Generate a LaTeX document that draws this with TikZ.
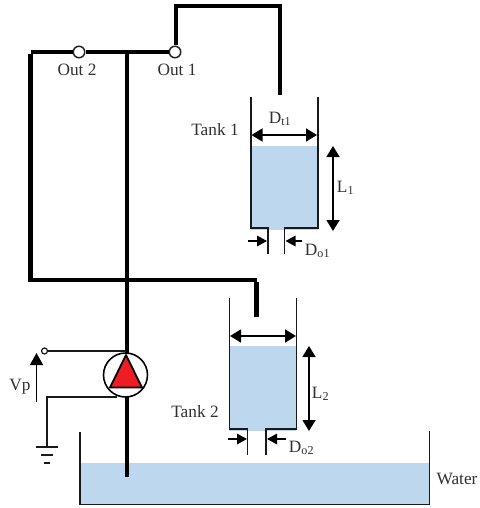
\documentclass[tikz,border=0pt]{standalone}
\usepackage{fontspec}
\setmainfont{Liberation Serif}
\usetikzlibrary{arrows.meta}
\definecolor{waterblue}{HTML}{BDD7EE}
\definecolor{pumpred}{HTML}{EE1C25}
\definecolor{labelgray}{HTML}{303030}
\tikzset{
  x=1pt,y=-1pt,
  pipe/.style={line width=4.4pt,line cap=butt,line join=miter,black},
  wall/.style={line width=1.9pt,line join=miter,black!90},
  wire/.style={line width=1.4pt,line join=miter,black!90},
  water/.style={fill=waterblue,draw=none},
  dim/.style={line width=1.6pt,black,{Triangle[length=11pt,width=13pt]}-{Triangle[length=11pt,width=13pt]}},
  dimin/.style={line width=1.6pt,black,-{Triangle[length=10pt,width=10.5pt]}},
  lab/.style={font=\fontsize{17.3}{19}\selectfont,text=labelgray,inner sep=0pt},
  valve/.style={circle,draw=black!85,line width=1.5pt,fill=white,minimum size=11.5pt,inner sep=0pt},
}
\begin{document}
\begin{tikzpicture}
\useasboundingbox (0,0) rectangle (479,508);

% water
\fill[water] (251,146) rectangle (318,230);
\fill[water] (229,346) rectangle (296,431);
\fill[water] (80,463) rectangle (429,504);

% pipe junction points
\coordinate (tl) at (30.5,52);
\coordinate (bl) at (30.5,280);
\coordinate (j) at (127,52);
\coordinate (sump) at (127,477);
\coordinate (t2in) at (256.5,317);
\coordinate (t2c) at (256.5,280);
\coordinate (t1in) at (280,95);
\coordinate (t1c) at (280,6);
\coordinate (o1c) at (176,6);

\node[valve] (out2) at (79,52) {};
\node[valve] (out1) at (175,52) {};

\draw[pipe] (t1in) -- (t1c) -- (o1c) -- (out1.north -| o1c);
\draw[line width=3.6pt] (out1.west) -- (out2.east);
\draw[line width=3.6pt] (out2.west) -- (tl);
\draw[pipe,line width=5pt] ([yshift=-2pt]tl) -- (bl);
\draw[line width=3.8pt] ([xshift=-2.5pt]bl) -- (t2c);
\draw[pipe,line width=5.4pt] ([yshift=-2pt]t2c) -- (t2in);
\draw[pipe] (j) -- (sump);

% tank 1
\draw[wall] (251,97) -- (251,228) -- (267.7,228) -- (267.7,254);
\draw[wall] (317.7,97) -- (317.7,228) -- (284.5,228) -- (284.5,254);
\draw[dim] (251.5,135) -- (317,135);
\draw[dim] (333,146) -- (333,231);
\draw[dimin] (248,241) -- (267,241);
\draw[dimin] (302,241) -- (285.5,241);
\node[lab] (dt1) at (280,119) {D\textsubscript{t1}};
\node[lab] (tank1) at (215,130) {Tank 1};
\node[lab] (l1) at (345.5,188) {L\textsubscript{1}};
\node[lab] (do1) at (317.5,251) {D\textsubscript{o1}};

% tank 2
\draw[wall] (229.5,298) -- (229.5,429) -- (247.5,429) -- (247.5,455);
\draw[wall] (296.5,298) -- (296.5,429) -- (266,429) -- (266,455);
\draw[dim] (230,336) -- (296,336);
\draw[dim] (309,346) -- (309,431);
\draw[dimin] (228,439) -- (247,439);
\draw[dimin] (286,439) -- (267,439);
\node[lab] (l2) at (320.5,394) {L\textsubscript{2}};
\node[lab] (do2) at (301.5,448) {D\textsubscript{o2}};
\node[lab] (tank2) at (195,412) {Tank 2};

% sump
\draw[wall] (80,432) -- (80,504.5) -- (429.5,504.5) -- (429.5,431);
\node[lab] (waterlab) at (457,479) {Water};

% pump
\node[circle,draw=black,line width=1.6pt,fill=white,minimum size=44pt,inner sep=0pt] (pump) at (125.5,375) {};
\draw[fill=pumpred,draw=black,line width=1.8pt,line join=round] (126,355) -- (142,387.5) -- (110,387.5) -- cycle;
\node[circle,draw=black!90,line width=1.2pt,fill=white,minimum size=6pt,inner sep=0pt] (vp) at (44.5,351) {};
\draw[wire] (vp.east) -- (126,351);
\coordinate (gnd) at (47,447);
\draw[wire] (117,397) -- (47,397) -- (gnd);
\draw[line width=1.4pt,black!90] (36,447) -- (57.5,447);
\draw[line width=1.4pt,black!90] (41,455) -- (52.5,455);
\draw[line width=1.4pt,black!90] (44,463) -- (49.5,463);
\draw[line width=1.4pt,black,-{Triangle[length=12pt,width=13pt]}] (36.5,402) -- (36.5,353);
\node[lab] (vplab) at (20,387) {Vp};

% labels
\node[lab] (o2l) at (77,70) {Out 2};
\node[lab] (o1l) at (177,70) {Out 1};
\end{tikzpicture}
\end{document}
